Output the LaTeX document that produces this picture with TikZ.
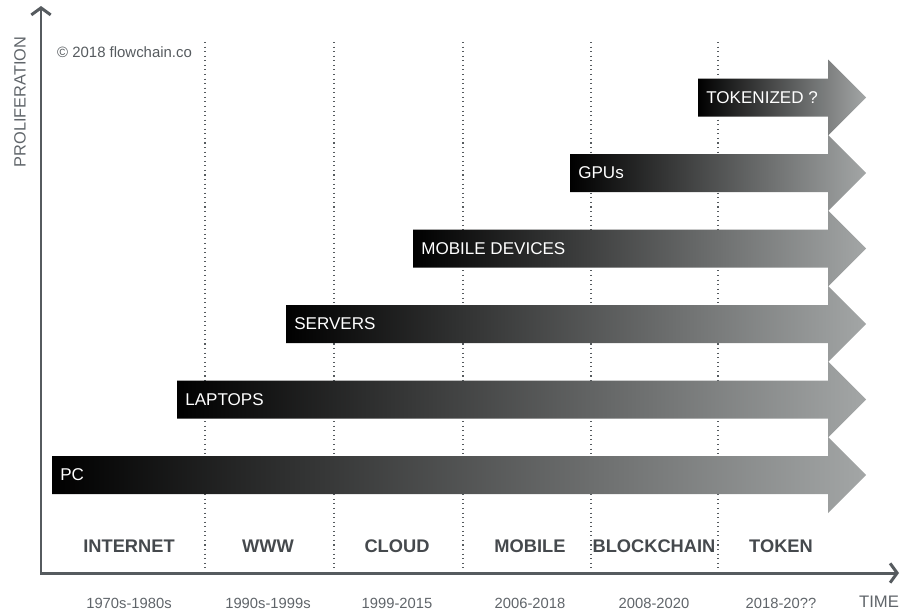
\documentclass[tikz,border=0pt]{standalone}
\usepackage{fontspec}
\setmainfont{Liberation Sans}
\usetikzlibrary{arrows.meta}
\definecolor{axisgray}{HTML}{565B5F}
\definecolor{labgray}{HTML}{45494D}
\definecolor{yeargray}{HTML}{60656A}
\definecolor{headgray}{HTML}{A3A6A6}
\tikzset{
	axis/.style={draw=axisgray, line width=1.7pt, line join=miter},
	sepline/.style={draw=axisgray, dotted, line width=0.6pt},
	bar/.style={left color=black, right color=headgray},
	barlabel/.style={anchor=west, inner xsep=0.16cm, text=white, font=\fontsize{9.7}{11}\selectfont},
	era/.style={text=labgray, font=\fontsize{10.4}{12}\selectfont\bfseries},
	years/.style={text=yeargray, font=\fontsize{8.4}{10}\selectfont}
}

\begin{document}
\begin{tikzpicture}[x=0.02cm, y=-0.02cm]
		\useasboundingbox (0,0) rectangle (902,612);
		%
		\foreach \x in {205,334,463,591,718}
			\draw[sepline] (\x,42) -- (\x,571);
		%
		\foreach \lx/\cy/\nm/\txt in {52/475/PC/PC, 177/399.5/LT/LAPTOPS, 286/324/SV/SERVERS,
				413/248.5/MD/MOBILE DEVICES, 570/173/GP/GPUs, 698/97.5/TK/TOKENIZED ?} {
			\shade[bar] (\lx,\cy-19) -- (828,\cy-19) -- (828,\cy-38) -- (866,\cy)
				-- (828,\cy+38) -- (828,\cy+19) -- (\lx,\cy+19) -- cycle;
			\node[barlabel] (\nm) at (\lx,\cy) {\txt};
		}
		%
		\coordinate (Ytop) at (41,6);
		\coordinate (O) at (41,573);
		\coordinate (Xend) at (899,573);
		\draw[axis, {Straight Barb[length=4pt,width=11pt]}-{Straight Barb[length=4pt,width=11pt]}]
			(Ytop) -- (O) -- (Xend);
		%
		\node[rotate=90, text=yeargray, font=\fontsize{9.3}{11}\selectfont] (PR) at (20,102) {PROLIFERATION};
		\node[anchor=west, text=axisgray, font=\fontsize{8.5}{10}\selectfont] (CR) at (51,52) {\textcopyright\ 2018 flowchain.co};
		%
		\node[era] (E1) at (129,546) {INTERNET};
		\node[era] (E2) at (268,546) {WWW};
		\node[era] (E3) at (397,546) {CLOUD};
		\node[era] (E4) at (530,546) {MOBILE};
		\node[era] (E5) at (654,546) {BLOCKCHAIN};
		\node[era] (E6) at (781,546) {TOKEN};
		%
		\node[years] (Y1) at (129,603) {1970s-1980s};
		\node[years] (Y2) at (268,603) {1990s-1999s};
		\node[years] (Y3) at (397,603) {1999-2015};
		\node[years] (Y4) at (530,603) {2006-2018};
		\node[years] (Y5) at (654,603) {2008-2020};
		\node[years] (Y6) at (781,603) {2018-20??};
		\node[years, font=\fontsize{9.5}{11}\selectfont] (TM) at (879,602) {TIME};
	\end{tikzpicture}
\end{document}
